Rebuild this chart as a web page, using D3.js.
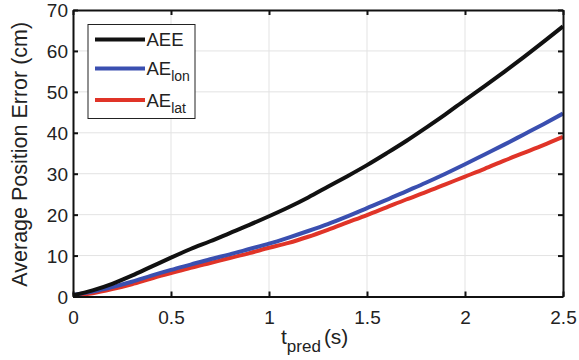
<!DOCTYPE html>
<html><head><meta charset="utf-8">
<script src="https://cdn.jsdelivr.net/npm/d3@7"></script>
<style>body{margin:0;background:#fff;} svg{display:block;font-family:"Liberation Sans",Arial,sans-serif;}</style>
</head><body><svg id="c" width="579" height="360"></svg>
<script>
const tPred = [0,0.1,0.2,0.3,0.4,0.5,0.6,0.7,0.8,0.9,1.0,1.1,1.2,1.3,1.4,1.5,1.6,1.7,1.8,1.9,2.0,2.1,2.2,2.3,2.4,2.5];
const aee   = [0.3,1.5,3.1,5.1,7.3,9.5,11.6,13.5,15.5,17.5,19.6,21.8,24.2,26.8,29.4,32.1,35.0,38.0,41.2,44.5,48.0,51.4,54.9,58.5,62.2,66.0];
const aeLon = [0.4,1.2,2.3,3.6,5.1,6.5,7.8,9.1,10.3,11.6,12.9,14.4,16.0,17.7,19.6,21.6,23.6,25.7,27.8,30.0,32.3,34.7,37.1,39.6,42.1,44.7];
const aeLat = [0.2,0.8,1.8,3.0,4.4,5.7,7.0,8.2,9.4,10.6,11.9,13.1,14.6,16.3,18.1,19.9,21.8,23.7,25.5,27.4,29.3,31.2,33.2,35.1,37.0,39.0];
const xTicks = [0,0.5,1,1.5,2,2.5];
const yTicks = [0,10,20,30,40,50,60,70];
const seriesNames = [["AEE",""],["AE","lon"],["AE","lat"]];
const seriesColors = ["#111111","#3a4fb0","#e03428"];

const svg = d3.select("#c");
const L=73, R=563, T=10, B=296.5;
const x = d3.scaleLinear().domain([0,2.5]).range([L,R]);
const y = d3.scaleLinear().domain([0,70]).range([B,T]);

// grid
svg.append("g").selectAll("line").data(xTicks.slice(1,-1)).join("line")
  .attr("x1",d=>x(d)).attr("x2",d=>x(d)).attr("y1",T).attr("y2",B)
  .attr("stroke","#e3e3e3").attr("stroke-width",1);
svg.append("g").selectAll("line").data(yTicks.slice(1,-1)).join("line")
  .attr("y1",d=>y(d)).attr("y2",d=>y(d)).attr("x1",L).attr("x2",R)
  .attr("stroke","#e3e3e3").attr("stroke-width",1);

// lines
const series=[aee,aeLon,aeLat];
const line = d3.line().x((d,i)=>x(tPred[i])).y(d=>y(d)).curve(d3.curveMonotoneX);
[2,1,0].forEach(i=>{
  svg.append("path").datum(series[i]).attr("d",line).attr("fill","none")
   .attr("stroke",seriesColors[i]).attr("stroke-width",4).attr("stroke-linejoin","round");
});

// axes
const ax = d3.axisBottom(x).tickValues(xTicks).tickSizeInner(-5).tickSizeOuter(0).tickFormat(d3.format("~g"));
const gx = svg.append("g").attr("transform",`translate(0,${B})`).call(ax);
const ay = d3.axisLeft(y).tickValues(yTicks).tickSizeInner(-5).tickSizeOuter(0);
const gy = svg.append("g").attr("transform",`translate(${L},0)`).call(ay);
svg.append("g").attr("transform",`translate(0,${T})`)
  .call(d3.axisTop(x).tickValues(xTicks).tickSizeInner(-5).tickSizeOuter(0).tickFormat(""));
svg.append("g").attr("transform",`translate(${R},0)`)
  .call(d3.axisRight(y).tickValues(yTicks).tickSizeInner(-5).tickSizeOuter(0).tickFormat(""));
svg.selectAll("g").attr("font-family",null).attr("font-size",null);
svg.selectAll(".domain").attr("stroke","#111").attr("stroke-width",2);
svg.selectAll(".tick line").attr("stroke","#111").attr("stroke-width",2);
gx.selectAll("text").attr("font-size",19).attr("fill","#222").attr("dy",null).attr("y",27);
gy.selectAll("text").attr("font-size",19).attr("fill","#222").attr("x",-5).attr("dy","0.36em");

// axis titles
svg.append("text").attr("transform",`translate(27,${(T+B)/2+1}) rotate(-90)`)
  .attr("text-anchor","middle").attr("font-size",21.5).attr("fill","#222")
  .text("Average Position Error (cm)");
const xt = svg.append("text").attr("x",281).attr("y",344)
  .attr("font-size",21).attr("fill","#222");
xt.append("tspan").text("t");
xt.append("tspan").attr("font-size",17).attr("dy",8).text("pred");
xt.append("tspan").attr("dy",-8).attr("dx",3).text("(s)");

// legend
const lg = svg.append("g");
lg.append("rect").attr("x",88).attr("y",24.5).attr("width",107).attr("height",94)
  .attr("fill","#fff").attr("stroke","#222").attr("stroke-width",1);
const ly=[39.5,68.5,100];
seriesNames.forEach((n,i)=>{
  lg.append("line").attr("x1",95).attr("x2",145).attr("y1",ly[i]).attr("y2",ly[i])
    .attr("stroke",seriesColors[i]).attr("stroke-width",4);
  const t = lg.append("text").attr("x",146.5).attr("y",ly[i]+6.5).attr("font-size",18.5).attr("fill","#222");
  t.append("tspan").text(n[0]);
  if(n[1]) t.append("tspan").attr("font-size",14).attr("dy",6).text(n[1]);
});
</script></body></html>
